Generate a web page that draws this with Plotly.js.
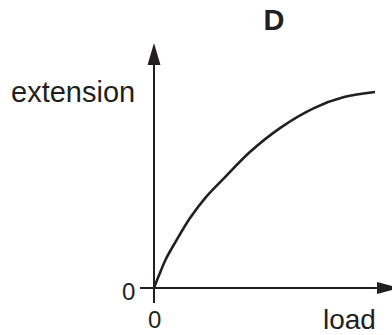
<!DOCTYPE html>
<html>
<head>
<meta charset="utf-8">
<script src="https://cdn.plot.ly/plotly-3.0.1.min.js"></script>
<style>html,body{margin:0;padding:0;background:#fff;}#chart{width:392px;height:335px;}</style>
</head>
<body>
<div id="chart"></div>
<script>
// curve (arbitrary units)
const load = [0, 0.23, 0.54, 1.0, 1.63, 2.35, 3.26, 4.34, 5.7, 7.24, 8.6, 10.0];
const extension = [0, 0.66, 1.48, 2.4, 3.57, 4.64, 5.71, 6.94, 8.16, 9.18, 9.74, 10.0];
const xTitle = "load";
const yTitle = "extension";
const chartTitle = "D";
const originLabel = "0";

const kx = 10 / 221, ky = 10 / 196;
const xRange = [-154 * kx, 238 * kx];
const yRange = [-47 * ky, 288 * ky];
const ink = "#231f20";
const font = "Liberation Sans, Arial, sans-serif";

const trace = {
  x: load, y: extension, type: "scatter", mode: "lines",
  line: {color: ink, width: 2.6, shape: "spline", smoothing: 1},
  hoverinfo: "skip"
};

const shapes = [
  {type: "line", xref: "x", yref: "y", x0: -14 * kx, y0: 0, x1: 225 * kx, y1: 0, line: {color: ink, width: 2}},
  {type: "line", xref: "x", yref: "y", x0: 0, y0: -15 * ky, x1: 0, y1: 225 * ky, line: {color: ink, width: 2}},
  {type: "path", xref: "x", yref: "y",
   path: `M ${-6.5 * kx} ${223 * ky} L ${6.5 * kx} ${223 * ky} L 0 ${245 * ky} Z`,
   fillcolor: ink, line: {color: ink, width: 0}},
  {type: "path", xref: "x", yref: "y",
   path: `M ${223 * kx} ${-6 * ky} L ${223 * kx} ${6 * ky} L ${245 * kx} 0 Z`,
   fillcolor: ink, line: {color: ink, width: 0}}
];

const annotations = [
  {x: -26 * kx, y: -3 * ky, text: originLabel, showarrow: false, xanchor: "center", yanchor: "middle", font: {family: font, size: 24, color: ink}},
  {x: 0, y: -31 * ky, text: originLabel, showarrow: false, xanchor: "center", yanchor: "middle", font: {family: font, size: 24, color: ink}},
  {x: 195 * kx, y: -31 * ky, text: xTitle, showarrow: false, xanchor: "center", yanchor: "middle", font: {family: font, size: 28, color: ink}},
  {x: -81 * kx, y: 196 * ky, text: yTitle, showarrow: false, xanchor: "center", yanchor: "middle", font: {family: font, size: 29, color: ink}}
];

const layout = {
  width: 392, height: 335, autosize: false,
  margin: {l: 0, r: 0, t: 0, b: 0, pad: 0},
  paper_bgcolor: "#fff", plot_bgcolor: "#fff",
  showlegend: false,
  title: {text: "<b>" + chartTitle + "</b>", x: 274 / 392, xref: "paper", xanchor: "center",
          y: 1 - 20 / 335, yref: "container", yanchor: "middle",
          font: {family: font, size: 29, color: ink}},
  xaxis: {range: xRange, visible: false, fixedrange: true},
  yaxis: {range: yRange, visible: false, fixedrange: true},
  shapes: shapes,
  annotations: annotations
};

Plotly.newPlot("chart", [trace], layout, {displayModeBar: false, staticPlot: true});
</script>
</body>
</html>
